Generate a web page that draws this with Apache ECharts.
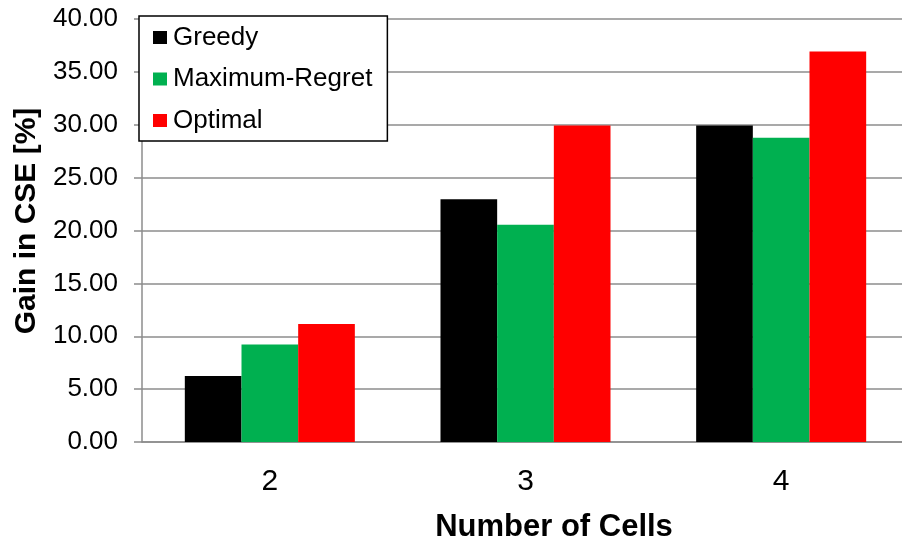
<!DOCTYPE html>
<html>
<head>
<meta charset="utf-8">
<script src="https://cdn.jsdelivr.net/npm/echarts@6/dist/echarts.min.js"></script>
<style>
  html, body { margin: 0; padding: 0; background: #fff; }
  #chart { width: 902px; height: 539px; }
</style>
</head>
<body>
<div id="chart"></div>
<script>
const categories = ['2', '3', '4'];
const seriesNames = ['Greedy', 'Maximum-Regret', 'Optimal'];
const greedy = [6.25, 22.95, 29.92];
const maxRegret = [9.22, 20.55, 28.76];
const optimal = [11.17, 29.92, 36.93];
const yTicks = { min: 0, max: 40, interval: 5 };
const xTitle = 'Number of Cells';
const yTitle = 'Gain in CSE [%]';

const colors = ['#000000', '#00b050', '#ff0000'];
const FONT = 'Liberation Sans, Arial, sans-serif';

const chart = echarts.init(document.getElementById('chart'), null, { renderer: 'canvas' });
const dataSets = [greedy, maxRegret, optimal];

chart.setOption({
  animation: false,
  backgroundColor: '#ffffff',
  textStyle: { fontFamily: FONT, color: '#000' },
  grid: { left: 142, top: 19, bottom: 97, right: -7, containLabel: false, outerBoundsMode: 'none' },
  legend: {
    orient: 'vertical',
    left: 139,
    top: 16,
    data: seriesNames,
    icon: 'rect',
    itemWidth: 14,
    itemHeight: 13,
    itemGap: 15.5,
    padding: [8.5, 15, 7.5, 14],
    borderColor: '#000',
    borderWidth: 1.5,
    backgroundColor: '#ffffff',
    textStyle: { fontFamily: FONT, fontSize: 26, color: '#000', lineHeight: 26, padding: [0, 0, 0, 1] },
    selectedMode: false
  },
  xAxis: {
    type: 'category',
    data: categories,
    name: xTitle,
    nameLocation: 'middle',
    nameGap: 70,
    nameTextStyle: { fontFamily: FONT, fontSize: 31, fontWeight: 'bold', color: '#000', padding: [0, 0, 0, 57] },
    axisLine: { show: true, lineStyle: { color: '#8c8c8c', width: 1.5 } },
    axisTick: { show: false },
    axisLabel: { fontFamily: FONT, fontSize: 30, color: '#000', margin: 25 },
    splitLine: { show: false }
  },
  yAxis: {
    type: 'value',
    min: yTicks.min,
    max: yTicks.max,
    interval: yTicks.interval,
    name: yTitle,
    nameLocation: 'middle',
    nameGap: 96,
    nameTextStyle: { fontFamily: FONT, fontSize: 30, fontWeight: 'bold', color: '#000', padding: [0, 0, 0, 19] },
    axisLine: { show: true, lineStyle: { color: '#8c8c8c', width: 1.5 } },
    axisTick: { show: true, inside: false, length: 8, lineStyle: { color: '#8c8c8c', width: 1.5 } },
    axisLabel: { fontFamily: FONT, fontSize: 26, color: '#000', margin: 24, formatter: v => v.toFixed(2) },
    splitLine: { show: true, lineStyle: { color: '#8c8c8c', width: 1.5 } }
  },
  series: seriesNames.map((name, i) => ({
    name: name,
    type: 'bar',
    data: dataSets[i],
    barGap: '0%',
    barCategoryGap: '33.5%',
    itemStyle: { color: colors[i] }
  }))
});
</script>
</body>
</html>
